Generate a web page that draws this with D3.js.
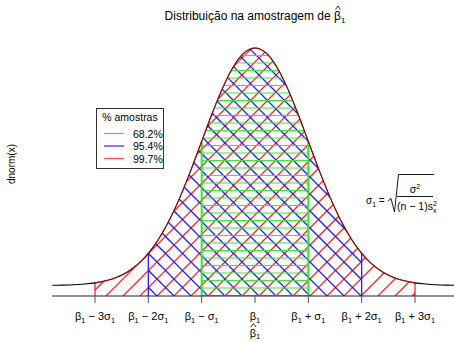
<!DOCTYPE html>
<html><head><meta charset="utf-8">
<script src="https://cdn.jsdelivr.net/npm/d3@7"></script>
<style>body{margin:0;background:#fff}svg{display:block}text{font-family:"Liberation Sans",Arial,sans-serif;fill:#000}</style>
</head><body>
<script>
// standard normal density read at x = -3.8 .. 3.8 (step 0.2)
const xVals = [-3.8,-3.6,-3.4,-3.2,-3.0,-2.8,-2.6,-2.4,-2.2,-2.0,-1.8,-1.6,-1.4,-1.2,-1.0,-0.8,-0.6,-0.4,-0.2,0,
               0.2,0.4,0.6,0.8,1.0,1.2,1.4,1.6,1.8,2.0,2.2,2.4,2.6,2.8,3.0,3.2,3.4,3.6,3.8];
const yVals = [0.0003,0.0006,0.0012,0.0024,0.0044,0.0079,0.0136,0.0224,0.0355,0.0540,0.0790,0.1109,0.1497,0.1942,0.2420,0.2897,0.3332,0.3683,0.3910,0.3989,
               0.3910,0.3683,0.3332,0.2897,0.2420,0.1942,0.1497,0.1109,0.0790,0.0540,0.0355,0.0224,0.0136,0.0079,0.0044,0.0024,0.0012,0.0006,0.0003];
const tickValues = [-3,-2,-1,0,1,2,3];
const tickLabels = [["β","1"," − 3σ","1"],["β","1"," − 2σ","1"],["β","1"," − σ","1"],["β","1"],["β","1"," + σ","1"],["β","1"," + 2σ","1"],["β","1"," + 3σ","1"]];
const regionSigmas = [3,2,1];
const regionColors = ["#ff2020","#2020ff","#2ee82e"];
const legendLabels = ["68.2%","95.4%","99.7%"];
const legendColors = ["#33e633","#2a2aff","#ff4a4a"];

const W=454,H=342;
const svg=d3.select("body").append("svg").attr("width",W).attr("height",H);
const x=d3.scaleLinear().domain([-3,3]).range([95,415]);
const y=d3.scaleLinear().domain([0,0.3989]).range([285.5,48]);
const yBase=296;
const pts=xVals.map((v,i)=>[v,yVals[i]]);
const line=d3.line().x(d=>x(d[0])).y(d=>y(d[1])).curve(d3.curveMonotoneX);

function regionPath(k){
  const sub=pts.filter(p=>p[0]>=-k-1e-9&&p[0]<=k+1e-9);
  const l=line(sub);
  return "M"+x(-k)+","+yBase+"L"+l.slice(1)+"L"+x(k)+","+yBase+"Z";
}
const defs=svg.append("defs");
regionSigmas.forEach((k,i)=>{
  defs.append("clipPath").attr("id","clip"+i).append("path").attr("d",regionPath(k));
});
// hatching
const gRed=svg.append("g").attr("clip-path","url(#clip0)");
for(let c=-200;c<=700;c+=17){gRed.append("line").attr("x1",c).attr("y1",yBase).attr("x2",c+300).attr("y2",yBase-300).attr("stroke",regionColors[0]).attr("stroke-width",1.25);}
const gBlue=svg.append("g").attr("clip-path","url(#clip1)");
for(let c=-200;c<=800;c+=17){gBlue.append("line").attr("x1",c).attr("y1",yBase).attr("x2",c-300).attr("y2",yBase-300).attr("stroke",regionColors[1]).attr("stroke-width",1.25);}
const gGreen=svg.append("g").attr("clip-path","url(#clip2)");
for(let yy=yBase-0.5;yy>30;yy-=7.5){gGreen.append("line").attr("x1",0).attr("x2",W).attr("y1",yy).attr("y2",yy).attr("stroke","#30f030").attr("stroke-width",1.1);}
// vertical borders
regionSigmas.forEach((k,i)=>{
  const v=pts.find(p=>Math.abs(p[0]-k)<1e-9)[1];
  [-k,k].forEach(s=>svg.append("line").attr("x1",x(s)).attr("x2",x(s)).attr("y1",yBase).attr("y2",y(v))
    .attr("stroke",regionColors[i]).attr("stroke-width",i==2?2:1.3));
});
// curve
svg.append("path").attr("d",line(pts)).attr("fill","none").attr("stroke","#000").attr("stroke-width",1.1);
svg.append("path").attr("d",line(pts.filter(p=>Math.abs(p[0])<=3+1e-9))).attr("fill","none").attr("stroke","#e00000").attr("stroke-opacity",0.7).attr("stroke-width",1.1);
// axis line
svg.append("line").attr("x1",x(-3.8)).attr("x2",W).attr("y1",yBase).attr("y2",yBase).attr("stroke","#222").attr("stroke-width",1);
tickValues.forEach((t,i)=>{
  svg.append("line").attr("x1",x(t)).attr("x2",x(t)).attr("y1",yBase).attr("y2",yBase+7).attr("stroke","#555");
  const lab=tickLabels[i];
  const tx=svg.append("text").attr("x",x(t)).attr("y",320).attr("text-anchor","middle").attr("font-size",11).attr("fill","#222");
  lab.forEach((s,j)=>{
    const sp=tx.append("tspan").text(s);
    if(j%2==1){sp.attr("font-size",7.5).attr("dy",3);} else if(j>0){sp.attr("dy",-3);}
  });
});
// x label beta hat
const xl=svg.append("text").attr("x",255).attr("y",336.5).attr("text-anchor","middle").attr("font-size",11);
xl.append("tspan").text("β");xl.append("tspan").text("1").attr("font-size",7.5).attr("dy",2.5);
{const bx=xl.node().getStartPositionOfChar(0).x, ex=xl.node().getEndPositionOfChar(0).x, cx=(bx+ex)/2+0.5;
 svg.append("path").attr("d",`M${cx-2.5},${327}L${cx},${323.5}L${cx+2.5},${327}`).attr("fill","none").attr("stroke","#000").attr("stroke-width",0.8);}
// y label
svg.append("text").attr("transform","translate(15,164) rotate(-90)").attr("text-anchor","middle").attr("font-size",10).text("dnorm(x)");
// title
const tt=svg.append("text").attr("x",255).attr("y",20).attr("text-anchor","middle").attr("font-size",12);
tt.append("tspan").text("Distribuição na amostragem de β");
tt.append("tspan").text("1").attr("font-size",8).attr("dy",3);
{const n=tt.node(); const idx="Distribuição na amostragem de ".length; const bx=n.getStartPositionOfChar(idx).x, ex=n.getEndPositionOfChar(idx).x, cx=(bx+ex)/2+0.5;
 svg.append("path").attr("d",`M${cx-2.5},${9.5}L${cx},${6}L${cx+2.5},${9.5}`).attr("fill","none").attr("stroke","#000").attr("stroke-width",0.8);}
// legend
svg.append("rect").attr("x",96.5).attr("y",108.5).attr("width",67).attr("height",60).attr("fill","#fff").attr("stroke","#333");
svg.append("text").attr("x",130).attr("y",121).attr("text-anchor","middle").attr("font-size",10.5).text("% amostras");
legendLabels.forEach((l,i)=>{
  const yy=133.5+i*12.5;
  svg.append("line").attr("x1",104).attr("x2",124).attr("y1",yy).attr("y2",yy).attr("stroke",legendColors[i]).attr("stroke-width",1.2);
  svg.append("text").attr("x",133).attr("y",yy+4).attr("font-size",10.5).text(l);
});
// formula
const fs=10.5;
const f1=svg.append("text").attr("x",366).attr("y",204).attr("font-size",10);
f1.append("tspan").text("σ");f1.append("tspan").text("1").attr("font-size",7).attr("dy",2.5);f1.append("tspan").text(" =").attr("dy",-2.5);
svg.append("path").attr("d","M388,201L391,198.5L394.5,212L398.5,174.5L434,174.5").attr("fill","none").attr("stroke","#000").attr("stroke-width",0.9);
svg.append("line").attr("x1",397).attr("x2",433).attr("y1",196.5).attr("y2",196.5).attr("stroke","#000").attr("stroke-width",0.9);
const num=svg.append("text").attr("x",415).attr("y",193).attr("text-anchor","middle").attr("font-size",fs);
num.append("tspan").text("σ");num.append("tspan").text("2").attr("font-size",7).attr("dy",-4);
const den=svg.append("text").attr("x",397).attr("y",210).attr("font-size",fs);
den.append("tspan").text("(n − 1)s");
den.append("tspan").text("2").attr("font-size",7).attr("dy",-4);
{const n=den.node(); const endS=n.getEndPositionOfChar(7).x;
 svg.append("text").attr("x",endS).attr("y",213).attr("font-size",7).text("x");}
</script>
</body></html>
